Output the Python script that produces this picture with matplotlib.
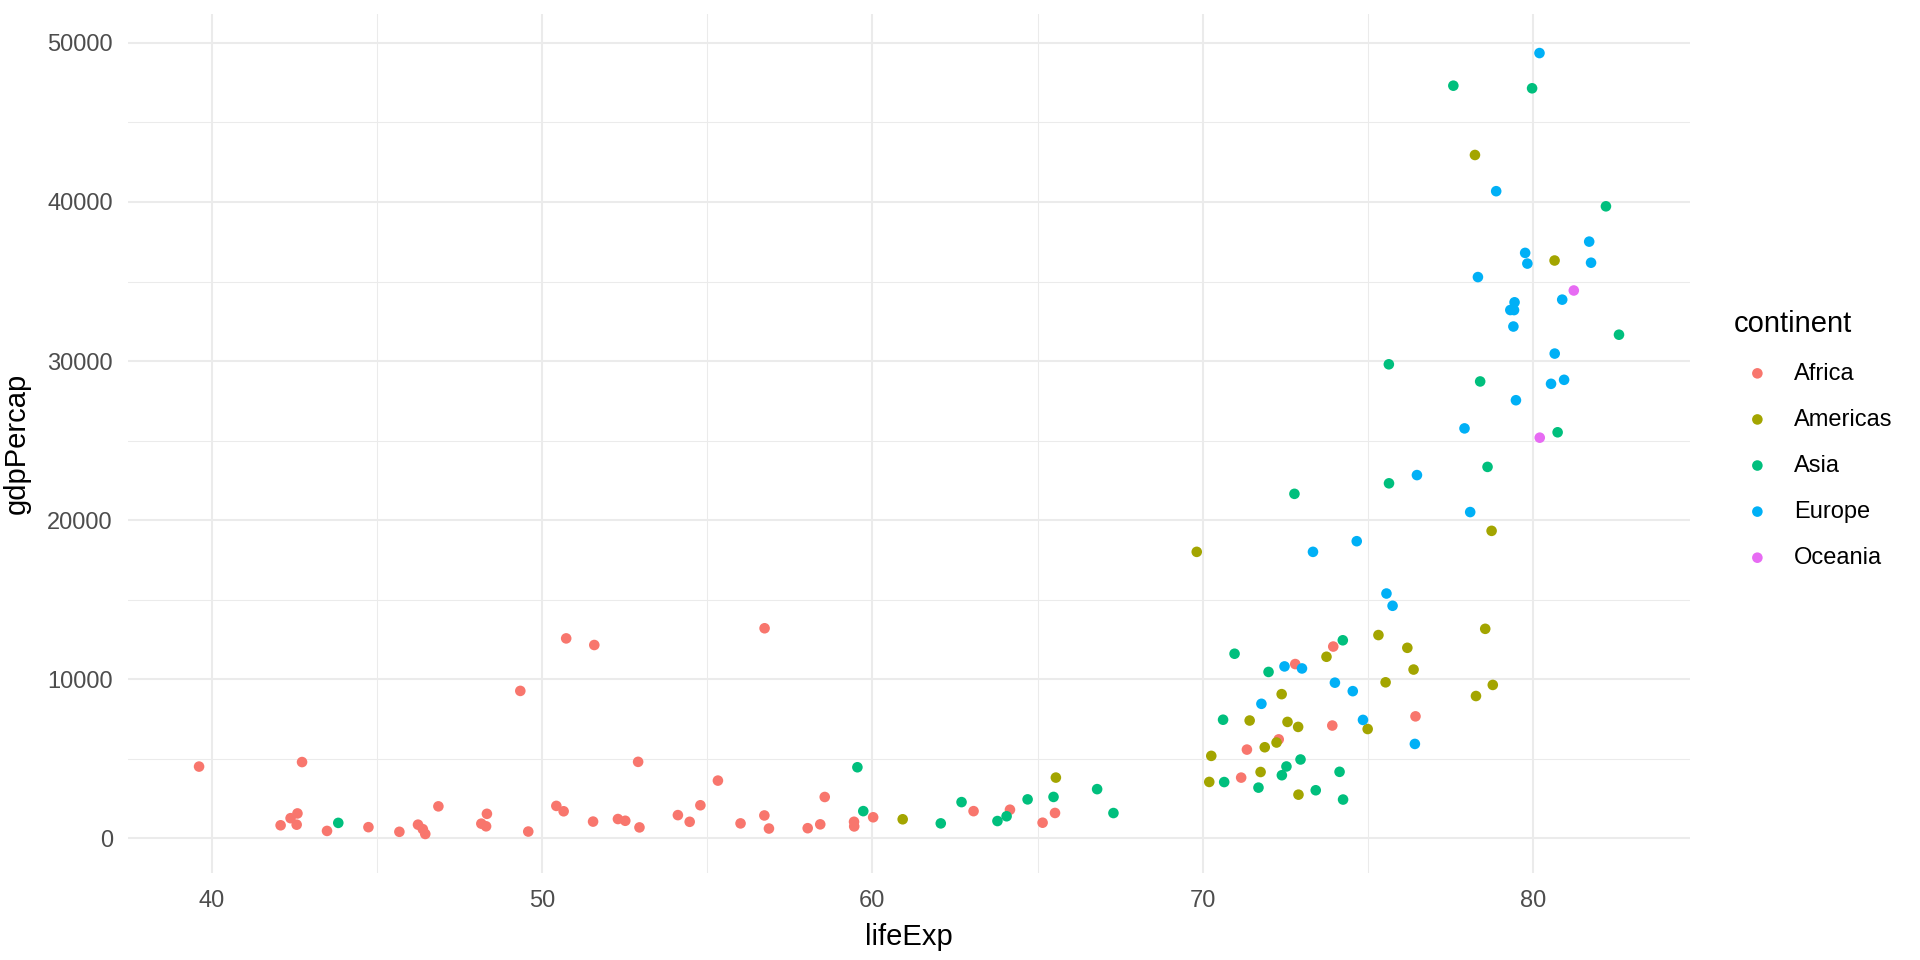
import matplotlib
matplotlib.use("Agg")
import matplotlib.pyplot as plt
from matplotlib.ticker import MultipleLocator

plt.rcParams['font.family'] = ['Liberation Sans', 'DejaVu Sans']

# gapminder 2007: life expectancy / GDP per capita by continent
africa_life = [72.301, 42.731, 56.728, 50.728, 52.295, 49.580, 50.430, 44.741, 50.651, 65.152,
               46.462, 55.322, 48.328, 54.791, 71.338, 51.579, 58.040, 52.947, 56.735, 59.448,
               60.022, 56.007, 46.388, 54.110, 42.592, 45.678, 73.952, 59.443, 48.303, 54.467,
               64.164, 72.801, 71.164, 42.082, 52.906, 56.867, 46.859, 76.442, 46.242, 65.528,
               63.062, 42.568, 48.159, 49.339, 58.556, 39.613, 52.517, 58.420, 73.923, 51.542,
               42.384, 43.487]
africa_gdp = [6223.4, 4797.2, 1441.3, 12569.9, 1217.0, 430.1, 2042.1, 706.0, 1704.1, 986.1,
              277.6, 3632.6, 1544.8, 2082.5, 5581.2, 12154.1, 641.4, 690.8, 13206.5, 752.7,
              1327.6, 942.7, 579.2, 1463.2, 1569.3, 414.5, 12057.5, 1044.8, 759.3, 1042.6,
              1803.2, 10957.0, 3820.2, 823.7, 4811.1, 619.7, 2014.0, 7670.1, 863.1, 1598.4,
              1712.5, 862.5, 926.1, 9269.7, 2602.4, 4513.5, 1107.5, 883.0, 7092.9, 1056.4,
              1271.2, 469.7]

americas_life = [75.320, 65.554, 72.390, 80.653, 78.553, 72.889, 78.782, 78.273, 72.235, 74.994,
                 71.878, 70.259, 60.916, 70.198, 72.567, 76.195, 72.899, 75.537, 71.752, 71.421,
                 78.746, 69.819, 78.242, 76.384, 73.747]
americas_gdp = [12779.4, 3822.1, 9065.8, 36319.2, 13171.6, 7006.6, 9645.1, 8948.1, 6025.4, 6873.3,
                5728.4, 5186.1, 1201.6, 3548.3, 7320.9, 11977.6, 2749.3, 9809.2, 4172.8, 7408.9,
                19328.7, 18008.5, 42951.7, 10611.5, 11415.8]

asia_life = [43.828, 75.635, 64.062, 59.723, 72.961, 82.208, 64.698, 70.650, 70.964, 59.545,
             80.745, 82.603, 72.535, 67.297, 78.623, 77.588, 71.993, 74.241, 66.803, 62.069,
             63.785, 75.640, 65.483, 71.688, 72.777, 79.972, 72.396, 74.143, 78.400, 70.616,
             74.249, 73.422, 62.698]
asia_gdp = [974.6, 29796.0, 1391.3, 1713.8, 4959.1, 39725.0, 2452.2, 3540.7, 11605.7, 4471.1,
            25523.3, 31656.1, 4519.5, 1593.1, 23348.1, 47307.0, 10461.1, 12451.7, 3095.8, 944.0,
            1091.4, 22316.2, 2605.9, 3190.5, 21654.8, 47143.2, 3970.1, 4184.5, 28718.3, 7458.4,
            2441.6, 3025.3, 2280.8]

europe_life = [76.423, 79.829, 79.441, 74.852, 73.005, 75.748, 76.486, 78.332, 79.313, 80.657,
               79.406, 79.483, 73.338, 81.757, 78.885, 80.546, 74.543, 79.762, 80.196, 75.563,
               78.098, 72.476, 74.002, 74.663, 77.926, 80.941, 80.884, 81.701, 71.777, 79.425]
europe_gdp = [5937.0, 36126.5, 33692.6, 7446.3, 10680.8, 14619.2, 22833.3, 35278.4, 33207.1, 30470.0,
              32170.4, 27538.4, 18008.9, 36180.8, 40676.0, 28569.7, 9253.9, 36797.9, 49357.2, 15389.9,
              20509.6, 10808.5, 9786.5, 18678.3, 25768.3, 28821.1, 33859.7, 37506.4, 8458.3, 33203.3]

oceania_life = [81.235, 80.204]
oceania_gdp = [34435.4, 25185.0]

continents = ["Africa", "Americas", "Asia", "Europe", "Oceania"]
colors = ["#F8766D", "#A3A500", "#00BF7D", "#00B0F6", "#E76BF3"]
series = [(africa_life, africa_gdp), (americas_life, americas_gdp), (asia_life, asia_gdp),
          (europe_life, europe_gdp), (oceania_life, oceania_gdp)]

fig = plt.figure(figsize=(19.2, 9.6), dpi=100)
ax = fig.add_axes([0.0667, 0.0906, 0.8135, 0.8948])

for name, col, (lx, gy) in zip(continents, colors, series):
    ax.scatter(lx, gy, s=58, color=col, edgecolors="none", label=name, zorder=3)

# ggplot-style 5% expansion
all_x = [v for s in series for v in s[0]]
all_y = [v for s in series for v in s[1]]
dx = (max(all_x) - min(all_x)) * 0.05
dy = (max(all_y) - min(all_y)) * 0.05
ax.set_xlim(min(all_x) - dx, max(all_x) + dx)
ax.set_ylim(min(all_y) - dy, max(all_y) + dy)

ax.xaxis.set_major_locator(MultipleLocator(10))
ax.xaxis.set_minor_locator(MultipleLocator(5))
ax.yaxis.set_major_locator(MultipleLocator(10000))
ax.yaxis.set_minor_locator(MultipleLocator(5000))
ax.grid(which="major", color="#EBEBEB", linewidth=1.5, zorder=0)
ax.grid(which="minor", color="#EBEBEB", linewidth=0.75, zorder=0)
ax.set_axisbelow(True)
for spine in ax.spines.values():
    spine.set_visible(False)
ax.tick_params(which="both", length=0)
ax.tick_params(axis="x", labelsize=17, labelcolor="#4D4D4D", pad=12)
ax.tick_params(axis="y", labelsize=17, labelcolor="#4D4D4D", pad=11)

ax.set_xlabel("lifeExp", fontsize=21, labelpad=8)
ax.set_ylabel("gdpPercap", fontsize=21, labelpad=12)

legend = ax.legend(loc="center left", bbox_to_anchor=(0.903, 0.542), bbox_transform=fig.transFigure,
                   frameon=False, fontsize=17, title="continent", title_fontsize=21,
                   alignment="left", handlelength=2.0, handletextpad=0.55,
                   labelspacing=1.02, borderpad=0, borderaxespad=0)

fig.savefig("out.png", dpi=100, facecolor="white")
